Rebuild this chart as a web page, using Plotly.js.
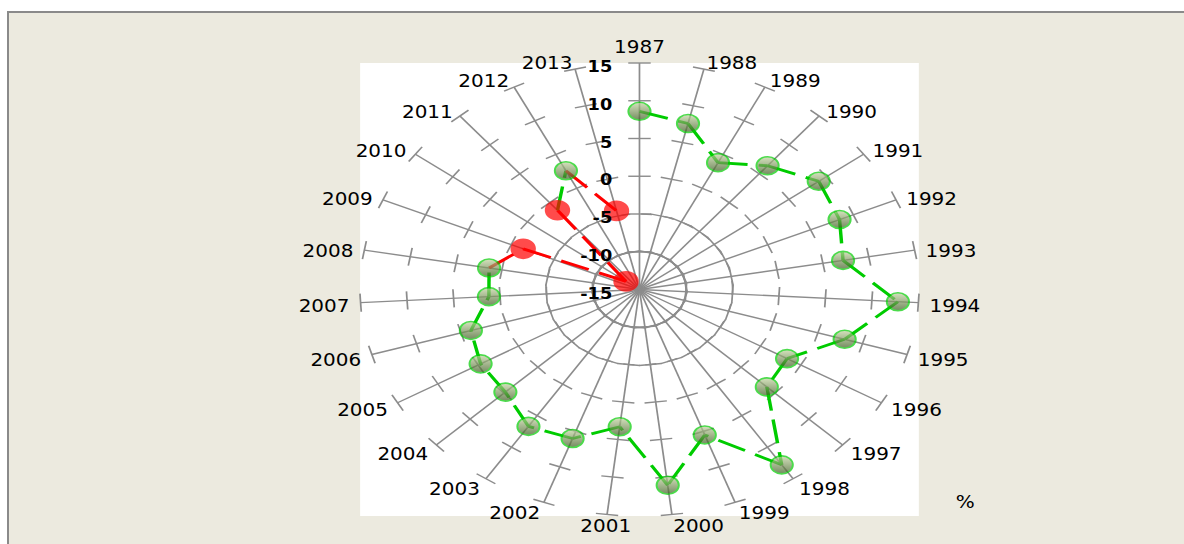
<!DOCTYPE html>
<html><head><meta charset="utf-8">
<script src="https://cdn.plot.ly/plotly-3.0.1.min.js"></script>
<style>
html,body{margin:0;padding:0;background:#fff;width:1184px;height:544px;overflow:hidden;}
#frame{position:absolute;left:7px;top:11px;width:1220px;height:580px;background:#ECEADF;border-left:2px solid #8a8a8a;border-top:2px solid #8a8a8a;}
#chart{position:absolute;left:0;top:0;width:960px;height:544px;transform:scaleX(1.23333);transform-origin:0 0;}
</style></head>
<body><div id="frame"></div><div id="chart"></div>
<script>
// ---- data ----
const years = ['1987','1988','1989','1990','1991','1992','1993','1994','1995','1996','1997','1998','1999','2000','2001','2002','2003','2004','2005','2006','2007','2008','2009','2010','2011','2012','2013'];
const values = [8.6, 7.6, 3.8, 6.4, 9.0, 8.4, 7.2, 12.8, 8.0, 3.3, 3.8, 12.8, 5.5, 11.1, 3.3, 6.0, 6.7, 4.8, 4.7, 3.9, 1.2, 1.4, -1.4, -13.2, -1.3, 2.6, -4.3];
const radialTicks = [-15, -10, -5, 0, 5, 10, 15];
const radialTickText = ['-15', '-10', '-5', '0', '5', '10', '15'];
const unitLabel = '%';

// ---- styling / geometry ----
const FONT = '"DejaVu Sans Condensed", "Liberation Sans", Arial, sans-serif';
const POS = '#00CC00', NEG = '#FF0000', GRID = '#8c8c8c';
const colorOf = v => v < 0 ? NEG : POS;
const INNER = 453, PAD = 16, OUTER = INNER + 2 * PAD, SHIFT = 4;
const dom = {x:[PAD / OUTER, (PAD + INNER) / OUTER], y:[PAD / OUTER, (PAD + INNER) / OUTER]};
const domText = {x:[0, 1], y:[0, (OUTER - 2 * SHIFT) / OUTER]};
const rMin = radialTicks[0], rMax = radialTicks[radialTicks.length - 1];
const rMaxText = rMin + (rMax - rMin) * (OUTER - 2 * SHIFT) / INNER;
const labelR = rMax + 1.2;

const traces = [];
// ring subplots (dummy traces so subplots render)
traces.push({type:'scatterpolar', subplot:'polar', mode:'markers', r:[rMin], theta:[0], marker:{size:0, opacity:0}, hoverinfo:'skip'});
traces.push({type:'scatterpolar', subplot:'polar2', mode:'markers', r:[rMin], theta:[0], marker:{size:0, opacity:0}, hoverinfo:'skip'});

// cross tick marks on every spoke
const tR = [], tT = [], tA = [];
years.forEach((y, i) => {
  radialTicks.slice(1).forEach(v => { tR.push(v); tT.push(y); tA.push(i * 360 / years.length); });
});
traces.push({type:'scatterpolar', subplot:'polar3', mode:'markers', r:tR, theta:tT, cliponaxis:false,
  marker:{symbol:'line-ew', size:13, angle:tA, color:GRID, line:{color:GRID, width:1.4}}, hoverinfo:'skip'});

// line segments, each coloured by its end point
for (let i = 1; i < years.length; i++) {
  traces.push({type:'scatterpolar', subplot:'polar3', mode:'lines', cliponaxis:false,
    r:[values[i-1], values[i]], theta:[years[i-1], years[i]],
    line:{color:colorOf(values[i]), width:2.8, dash:'24px,9px'}, hoverinfo:'skip'});
}
// markers
traces.push({type:'scatterpolar', subplot:'polar3', mode:'markers', cliponaxis:false,
  r:values, theta:years,
  marker:{
    size: values.map(v => v < 0 ? 19 : 18),
    color: values.map(v => v < 0 ? NEG : '#C4D6A2'),
    gradient:{type: values.map(v => v < 0 ? 'none' : 'vertical'), color: values.map(v => v < 0 ? NEG : '#3A5A1E')},
    line:{color: values.map(v => colorOf(v)), width:1.6}
  }, hoverinfo:'skip'});

// category labels just beyond the spoke ends (on a slightly larger, text-only polar)
const lblPos = years.map((y, i) => {
  const a = i * 360 / years.length;
  if (a === 0) return 'top center';
  if (a < 180) return 'middle right';
  if (a < 190) return 'middle center';
  return 'middle left';
});
traces.push({type:'scatterpolar', subplot:'polar4', mode:'text', cliponaxis:false,
  r:years.map(() => labelR), theta:years, text:years, textposition:lblPos,
  textfont:{family:FONT, size:18, color:'#000'}, hoverinfo:'skip'});

const layout = {
  width:960, height:544,
  margin:{l:292 - PAD, r:215 - PAD, t:63 - PAD, b:28 - PAD, pad:0},
  paper_bgcolor:'rgba(0,0,0,0)',
  showlegend:false, hovermode:false,
  shapes:[{type:'rect', xref:'paper', yref:'paper', x0:dom.x[0], x1:dom.x[1], y0:dom.y[0], y1:dom.y[1], fillcolor:'#ffffff', line:{width:0}, layer:'below'}],
  polar:{domain:dom, bgcolor:'#ffffff',
    radialaxis:{range:[rMin,rMax], tickvals:[-10], showticklabels:false, ticks:'', showline:false, gridcolor:GRID, gridwidth:1.3},
    angularaxis:{visible:false}},
  polar2:{domain:dom, bgcolor:'rgba(0,0,0,0)',
    radialaxis:{range:[rMin,rMax], tickvals:[-5], showticklabels:false, ticks:'', showline:false, gridcolor:GRID, gridwidth:1.3, griddash:'dash'},
    angularaxis:{visible:false}},
  polar3:{domain:dom, bgcolor:'rgba(0,0,0,0)',
    radialaxis:{range:[rMin,rMax], showticklabels:false, showline:false, showgrid:false, ticks:''},
    angularaxis:{type:'category', categoryorder:'array', categoryarray:years, rotation:90, direction:'clockwise',
      showline:false, showgrid:true, gridcolor:GRID, gridwidth:1.4, ticks:'', showticklabels:false}},
  polar4:{domain:domText, bgcolor:'rgba(0,0,0,0)',
    radialaxis:{range:[rMin,rMaxText], tickvals:radialTicks, ticktext:radialTickText, angle:90, side:'counterclockwise', tickangle:90,
      showline:false, showgrid:false, ticks:'outside', ticklen:16, tickcolor:'rgba(0,0,0,0)',
      tickfont:{family:FONT, size:16, color:'#000', weight:'bold'}},
    angularaxis:{type:'category', categoryorder:'array', categoryarray:years, rotation:90, direction:'clockwise',
      showline:false, showgrid:false, ticks:'', showticklabels:false}},
  annotations:[{text:unitLabel, xref:'paper', yref:'paper', x:(782.7 - 292 + PAD) / OUTER, y:(516 - 501.7 + PAD) / OUTER, xanchor:'center', yanchor:'middle',
    showarrow:false, font:{family:FONT, size:18, color:'#000'}}]
};
Plotly.newPlot('chart', traces, layout, {staticPlot:true, displayModeBar:false});
</script>
</body></html>
